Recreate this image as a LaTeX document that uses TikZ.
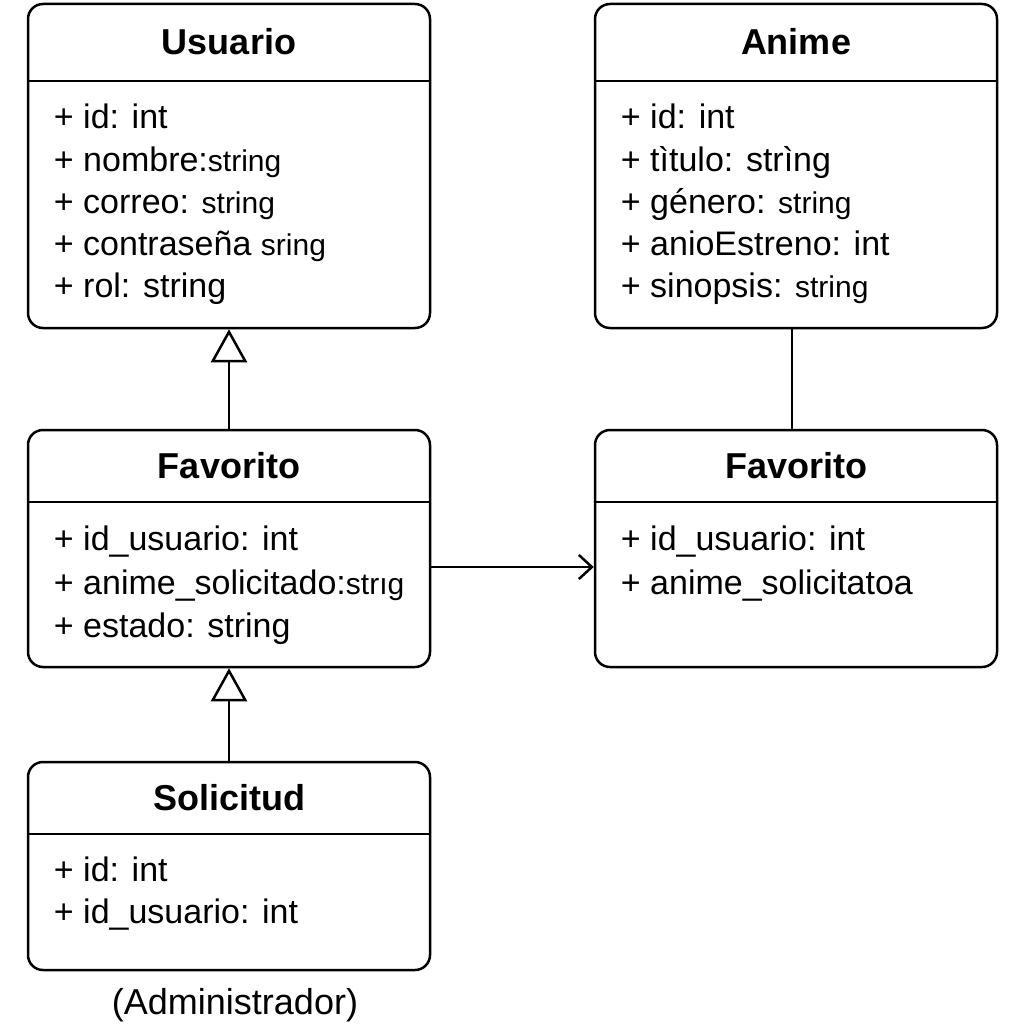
\documentclass[tikz,border=0pt]{standalone}
\usepackage{fontspec}
\setmainfont{Liberation Sans}
\usetikzlibrary{positioning, arrows.meta}

\newcommand{\smallstr}[1]{{\fontsize{30}{34}\selectfont #1}}

\tikzset{
  classbox/.style={draw, line width=2.5pt, rounded corners=15pt, minimum width=402pt, inner sep=0pt, fill=white},
  classtitle/.style={font=\fontsize{36}{40}\selectfont\bfseries, minimum width=402pt, inner sep=0pt},
  attr/.style={font=\fontsize{34}{40}\selectfont, anchor=base west, inner sep=0pt},
  divider/.style={line width=2pt},
  inherit/.style={line width=2pt, -{Triangle[open, width=36pt, length=33pt, line width=2.5pt, fill=white]}},
  link/.style={line width=2pt, -{Straight Barb[width=24pt, length=13pt, line width=2.5pt]}},
}

\begin{document}
\begin{tikzpicture}[x=1pt, y=-1pt]
    \useasboundingbox (0,0) rectangle (1024,1024);
    % cajas de las clases
    \node[classbox, minimum height=324pt] (usuario) at (229,166) {};
    \node[classbox, minimum height=324pt] (anime) at (796,166) {};
    \node[classbox, minimum height=237pt] (favA) at (229,548.5) {};
    \node[classbox, minimum height=237pt] (favB) at (796,548.5) {};
    \node[classbox, minimum height=208pt] (solicitud) at (229,866) {};
    % titulos
    \node[classtitle, minimum height=78pt, below=0pt of usuario.north] (usuarioT) {Usuario};
    \node[classtitle, minimum height=78pt, below=0pt of anime.north] (animeT) {Anime};
    \node[classtitle, minimum height=73pt, below=0pt of favA.north] (favAT) {Favorito};
    \node[classtitle, minimum height=73pt, below=0pt of favB.north] (favBT) {Favorito};
    \node[classtitle, minimum height=73pt, below=0pt of solicitud.north] (solicitudT) {Solicitud};
    \foreach \c in {usuario, anime, favA, favB, solicitud}
        \draw[divider] (\c.west |- \c T.south) -- (\c.east |- \c T.south);
    % atributos
    \foreach \a [count=\i] in {+ id: int, + nombre:\smallstr{string}, + correo: \smallstr{string}, + contraseña \smallstr{sring}, + rol: string}
        \node[attr] at ([xshift=27pt, yshift={-126pt-(\i-1)*42.3pt}] usuario.north west) {\a};
    \foreach \a [count=\i] in {+ id: int, + tìtulo: strìng, + género: \smallstr{string}, + anioEstreno: int, + sinopsis: \smallstr{string}}
        \node[attr] at ([xshift=27pt, yshift={-126pt-(\i-1)*42.3pt}] anime.north west) {\a};
    \foreach \a [count=\i] in {+ id\_usuario: int, + anime\_solicitado:\smallstr{strıg}, + estado: string}
        \node[attr] at ([xshift=27pt, yshift={-122pt-(\i-1)*43.5pt}] favA.north west) {\a};
    \foreach \a [count=\i] in {+ id\_usuario: int, + anime\_solicitatoa}
        \node[attr] at ([xshift=27pt, yshift={-122pt-(\i-1)*43.5pt}] favB.north west) {\a};
    \foreach \a [count=\i] in {+ id: int, + id\_usuario: int}
        \node[attr] at ([xshift=27pt, yshift={-121pt-(\i-1)*42pt}] solicitud.north west) {\a};
    \node[font=\fontsize{36}{40}\selectfont] (admin) at (235,1005) {(Administrador)};
    % relaciones
    \draw[inherit] (favA.north) -- (usuario.south);
    \draw[inherit] (solicitud.north) -- (favA.south);
    \draw[link] ([yshift=-18.5pt]favA.east) -- ([yshift=-18.5pt]favB.west);
    \draw[line width=2pt] ([xshift=-4pt]anime.south) -- ([xshift=-4pt]favB.north);
\end{tikzpicture}
\end{document}
